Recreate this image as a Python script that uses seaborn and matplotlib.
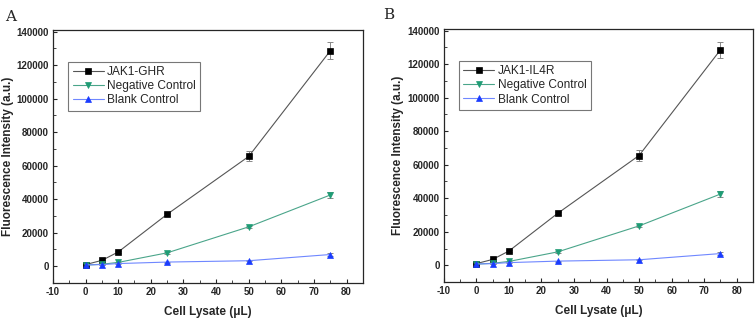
import pandas as pd
import seaborn as sns
import matplotlib.pyplot as plt

# data
lysate = [0, 5, 10, 25, 50, 75]
target_a = [1000, 3500, 8500, 31000, 65500, 128500]
target_b = [1000, 3500, 8500, 31000, 65500, 128500]
target_err = [300, 400, 500, 800, 3000, 5000]
negative = [700, 1200, 2300, 8000, 23500, 42500]
negative_err = [200, 200, 300, 500, 800, 2000]
blank = [800, 1000, 1600, 2500, 3300, 7000]
blank_err = [200, 200, 200, 300, 400, 800]

panels = [("A", "JAK1-GHR", target_a), ("B", "JAK1-IL4R", target_b)]
colors = {"target": "black", "Negative Control": "#1f9c75", "Blank Control": "#1a3cff"}
line_colors = {"target": "#555555", "Negative Control": "#4aa58a", "Blank Control": "#6f87ff"}
markers = {"target": "s", "Negative Control": "v", "Blank Control": "^"}

sns.set_style("ticks")
plt.rcParams['font.family'] = ['Liberation Sans', 'DejaVu Sans']
plt.rcParams['axes.unicode_minus'] = False

fig = plt.figure(figsize=(7.56, 3.18), dpi=100)
boxes = [[0.070, 0.110, 0.410, 0.796], [0.587, 0.113, 0.409, 0.796]]

for (letter, name, target), box in zip(panels, boxes):
    ax = fig.add_axes(box)
    series = [("target", name, target, target_err),
              ("Negative Control", "Negative Control", negative, negative_err),
              ("Blank Control", "Blank Control", blank, blank_err)]
    for key, label, vals, err in series:
        df = pd.DataFrame({"x": lysate, "y": vals})
        ax.errorbar(lysate, vals, yerr=err, fmt="none", ecolor="#888888",
                    elinewidth=0.7, capsize=2, capthick=0.7, zorder=2)
        sns.lineplot(data=df, x="x", y="y", ax=ax, color=line_colors[key],
                     linewidth=0.8, marker=markers[key], markersize=4.5,
                     markerfacecolor=colors[key], markeredgecolor=colors[key],
                     markeredgewidth=0.5, label=label, zorder=3)
    ax.set_xlim(-10, 85)
    ax.set_ylim(-10000, 141000)
    ax.set_xticks(range(-10, 81, 10))
    ax.set_xticks(range(-5, 85, 10), minor=True)
    ax.set_yticks(range(0, 140001, 20000))
    ax.set_yticks(range(10000, 140000, 20000), minor=True)
    ax.tick_params(direction="in", length=3, width=0.8, labelsize=7, pad=3)
    ax.tick_params(which="minor", direction="in", length=2, width=0.6)
    for lab in ax.get_xticklabels() + ax.get_yticklabels():
        lab.set_fontweight("bold")
    for sp in ax.spines.values():
        sp.set_linewidth(0.9)
    ax.set_xlabel("Cell Lysate (μL)", fontsize=8.5, fontweight="bold", labelpad=6)
    ax.set_ylabel("Fluorescence Intensity (a.u.)", fontsize=8.5, fontweight="bold", labelpad=2)
    leg = ax.legend(loc="upper left", bbox_to_anchor=(0.05, 0.875), fontsize=8.6,
                    frameon=True, fancybox=False, edgecolor="#555555",
                    handlelength=2.6, handletextpad=0.3, borderpad=0.35,
                    labelspacing=0.2, borderaxespad=0)
    leg.get_frame().set_linewidth(0.8)

fig.text(0.007, 0.935, "A", fontsize=11, family="DejaVu Serif")
fig.text(0.507, 0.940, "B", fontsize=11, family="DejaVu Serif")

fig.savefig("out.png", dpi=100)
